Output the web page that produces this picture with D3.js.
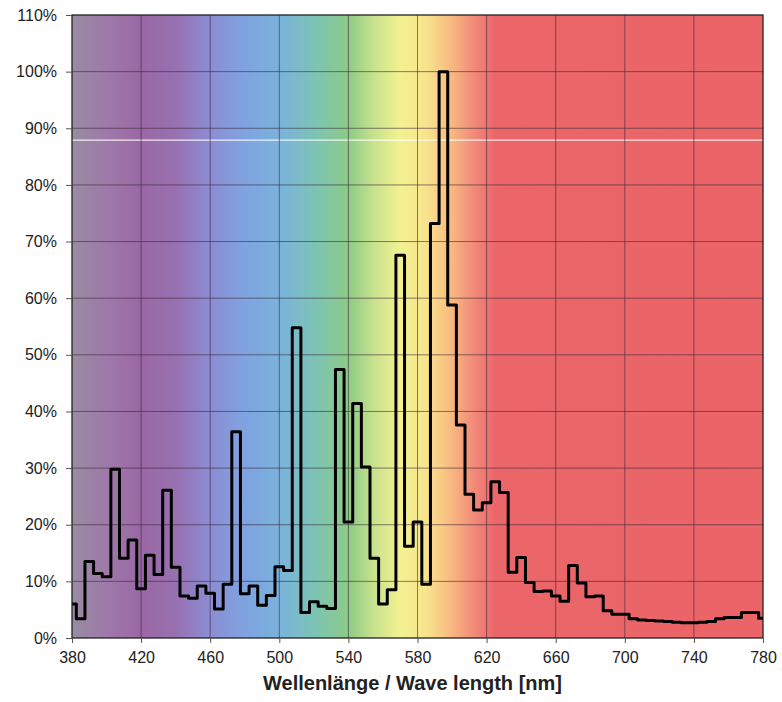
<!DOCTYPE html>
<html>
<head>
<meta charset="utf-8">
<script src="https://cdn.jsdelivr.net/npm/d3@7"></script>
<style>
  body { margin: 0; background: #fff; }
  text { font-family: "Liberation Sans", Arial, sans-serif; }
</style>
</head>
<body>
<svg id="chart" width="782" height="702"></svg>
<script>
// wavelength bins, 5 nm wide, centred on these values
var wavelengths = d3.range(380, 781, 5);
// relative intensity in % per bin
var intensity = [
   6.0,  3.4, 13.5, 11.4, 10.8, 29.8, 14.1, 17.3,  8.7, 14.6,
  11.2, 26.1, 12.5,  7.4,  7.0,  9.2,  7.9,  5.1,  9.5, 36.4,
   7.8,  9.2,  5.8,  7.5, 12.6, 11.9, 54.8,  4.5,  6.4,  5.6,
   5.2, 47.4, 20.5, 41.4, 30.2, 14.1,  6.0,  8.5, 67.6, 16.2,
  20.5,  9.5, 73.2,100.0, 58.8, 37.6, 25.4, 22.6, 23.9, 27.6,
  25.7, 11.6, 14.2,  9.8,  8.2,  8.3,  7.4,  6.5, 12.8,  9.7,
   7.3,  7.4,  4.8,  4.2,  4.2,  3.4,  3.2,  3.1,  3.0,  2.9,
   2.8,  2.7,  2.7,  2.8,  2.9,  3.4,  3.6,  3.6,  4.5,  4.5,
   3.5
];
var xTicks = d3.range(380, 781, 40);
var yTicks = d3.range(0, 111, 10);

// background spectrum colours
var specStops = [380, 400, 420, 440, 460, 480, 500, 520, 540, 555, 570, 585, 600, 612, 625, 780];
var specColors = ["#978ca1", "#9f79aa", "#9a68a4", "#9870b0", "#8c8dd4", "#7fa3e0", "#7ab2dc",
                  "#7cc3b6", "#8ccb86", "#c9e28e", "#f3f191", "#f8e48e", "#f8b880", "#f28c7a",
                  "#eb6669", "#ea6468"];

var margin = {left: 72, right: 19, top: 15, bottom: 64};
var svg = d3.select('#chart');
var W = 782 - margin.left - margin.right;
var H = 702 - margin.top - margin.bottom;

var x = d3.scaleLinear().domain([380, 780]).range([0, W]);
var y = d3.scaleLinear().domain([0, 110]).range([H, 0]);

var defs = svg.append('defs');
var grad = defs.append('linearGradient')
    .attr('id', 'spec')
    .attr('gradientUnits', 'userSpaceOnUse')
    .attr('x1', 0).attr('x2', W).attr('y1', 0).attr('y2', 0);
specStops.forEach(function(s, i) {
  grad.append('stop')
      .attr('offset', (x(s) / W))
      .attr('stop-color', specColors[i]);
});

var g = svg.append('g').attr('transform', `translate(${margin.left},${margin.top})`);

g.append('rect')
    .attr('width', W).attr('height', H)
    .attr('fill', 'url(#spec)');

// white streak across the plot
g.append('line')
    .attr('x1', 0).attr('x2', W)
    .attr('y1', y(87.9)).attr('y2', y(87.9))
    .attr('stroke', '#fff').attr('stroke-opacity', 0.85).attr('stroke-width', 1.2);

// grid
g.selectAll('.hgrid').data(yTicks.slice(1, -1)).enter().append('line')
    .attr('x1', 0).attr('x2', W)
    .attr('y1', d => y(d)).attr('y2', d => y(d))
    .attr('stroke', '#3a2a3a').attr('stroke-opacity', 0.6).attr('stroke-width', 1);
g.selectAll('.vgrid').data(xTicks.slice(1, -1)).enter().append('line')
    .attr('x1', d => x(d)).attr('x2', d => x(d))
    .attr('y1', 0).attr('y2', H)
    .attr('stroke', '#3a2a3a').attr('stroke-opacity', 0.6).attr('stroke-width', 1);

// spectrum step line
var line = d3.line()
    .x((d, i) => x(wavelengths[i]))
    .y(d => y(d))
    .curve(d3.curveStep);

g.append('path')
    .datum(intensity)
    .attr('d', line)
    .attr('fill', 'none')
    .attr('stroke', '#000')
    .attr('stroke-width', 3)
    .attr('stroke-linejoin', 'round');

// frame
g.append('rect')
    .attr('width', W).attr('height', H)
    .attr('fill', 'none')
    .attr('stroke', '#222').attr('stroke-width', 1.3);

// axes
var yAxis = g.append('g')
    .call(d3.axisLeft(y).tickValues(yTicks).tickSize(6).tickPadding(9).tickFormat(d => d + '%'));
var xAxis = g.append('g')
    .attr('transform', `translate(0,${H})`)
    .call(d3.axisBottom(x).tickValues(xTicks).tickSize(5).tickPadding(9));

[yAxis, xAxis].forEach(function(a) {
  a.select('.domain').remove();
  a.selectAll('line').attr('stroke', '#555');
  a.selectAll('text').attr('font-size', '16px').attr('fill', '#222')
      .style('font-family', '"Liberation Sans", Arial, sans-serif');
});

svg.append('text')
    .attr('x', margin.left + W / 2 - 5)
    .attr('y', 690)
    .attr('text-anchor', 'middle')
    .attr('font-size', '20px')
    .attr('font-weight', 'bold')
    .attr('fill', '#222')
    .text('Wellenlänge / Wave length [nm]');
</script>
</body>
</html>
